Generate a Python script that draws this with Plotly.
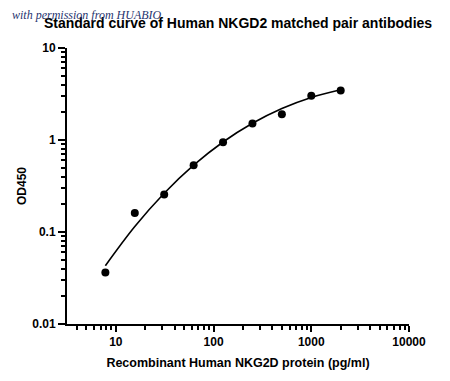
import plotly.graph_objects as go

# Data
conc = [7.8125, 15.625, 31.25, 62.5, 125, 250, 500, 1000, 2000]
od450 = [0.0364, 0.161, 0.256, 0.530, 0.944, 1.51, 1.91, 3.02, 3.46]
# fitted curve at the same concentrations
curve_od = [0.0430, 0.1146, 0.2636, 0.532, 0.951, 1.52, 2.20, 2.90, 3.52]

x_tickvals = [10, 100, 1000, 10000]
x_ticktext = ["10", "100", "1000", "10000"]
y_tickvals = [0.01, 0.1, 1, 10]
y_ticktext = ["0.01", "0.1", "1", "10"]

x_minor = [m * d for d in (1, 10, 100, 1000) for m in range(2, 10)]
y_minor = [m * d for d in (0.01, 0.1, 1) for m in range(2, 10)]

FONT = "Liberation Sans, Arial, sans-serif"

fig = go.Figure()
fig.add_trace(go.Scatter(x=conc, y=curve_od, mode="lines",
                         line=dict(color="black", width=1.6, shape="spline"),
                         hoverinfo="skip", showlegend=False))
fig.add_trace(go.Scatter(x=conc, y=od450, mode="markers",
                         marker=dict(color="black", size=8),
                         showlegend=False))

L, R, T, B = 67, 41, 48, 57
W, H = 450, 381
pw = W - L - R
ph = H - T - B

fig.update_layout(
    width=W, height=H,
    margin=dict(l=L, r=R, t=T, b=B, autoexpand=False),
    paper_bgcolor="white", plot_bgcolor="white",
    font=dict(family=FONT, color="black"),
    title=dict(text="<b>Standard curve of Human NKGD2 matched pair antibodies</b>",
               font=dict(size=14, family=FONT, color="black"),
               x=238 / W, xanchor="center", xref="container",
               y=1 - 23 / H, yanchor="middle", yref="container"),
)

fig.update_xaxes(
    type="log", range=[0.5, 4], automargin=False,
    showgrid=False, zeroline=False,
    showline=True, linecolor="black", linewidth=2,
    tickmode="array", tickvals=x_tickvals, ticktext=x_ticktext,
    ticks="outside", ticklen=6, tickwidth=2, tickcolor="black",
    tickfont=dict(size=12, family=FONT, color="black", weight="bold"),
    minor=dict(tickmode="array", tickvals=x_minor, ticks="outside",
               ticklen=4, tickwidth=2, tickcolor="black", showgrid=False),
    title=dict(text="<b>Recombinant Human NKG2D protein (pg/ml)</b>",
               font=dict(size=12.5, family=FONT, color="black"), standoff=10),
)
fig.update_yaxes(
    type="log", range=[-2, 1], automargin=False,
    showgrid=False, zeroline=False,
    showline=True, linecolor="black", linewidth=2,
    tickmode="array", tickvals=y_tickvals, ticktext=y_ticktext,
    ticks="outside", ticklen=7, tickwidth=2, tickcolor="black",
    tickfont=dict(size=12, family=FONT, color="black", weight="bold"),
    minor=dict(tickmode="array", tickvals=y_minor, ticks="outside",
               ticklen=4, tickwidth=2, tickcolor="black", showgrid=False),
    title=dict(text="<b>OD450</b>",
               font=dict(size=12, family=FONT, color="black"), standoff=3),
)

fig.add_annotation(
    text="<i>with permission from HUABIO</i>",
    xref="paper", yref="paper",
    x=(10 - L) / pw, y=(H - B - 15) / ph,
    xanchor="left", yanchor="middle", showarrow=False,
    font=dict(family="Liberation Serif, DejaVu Serif, serif", size=12, color="#27346f"),
)

fig.write_html("out.html", config={"displayModeBar": False},
               post_script="document.body.style.margin='0';")
